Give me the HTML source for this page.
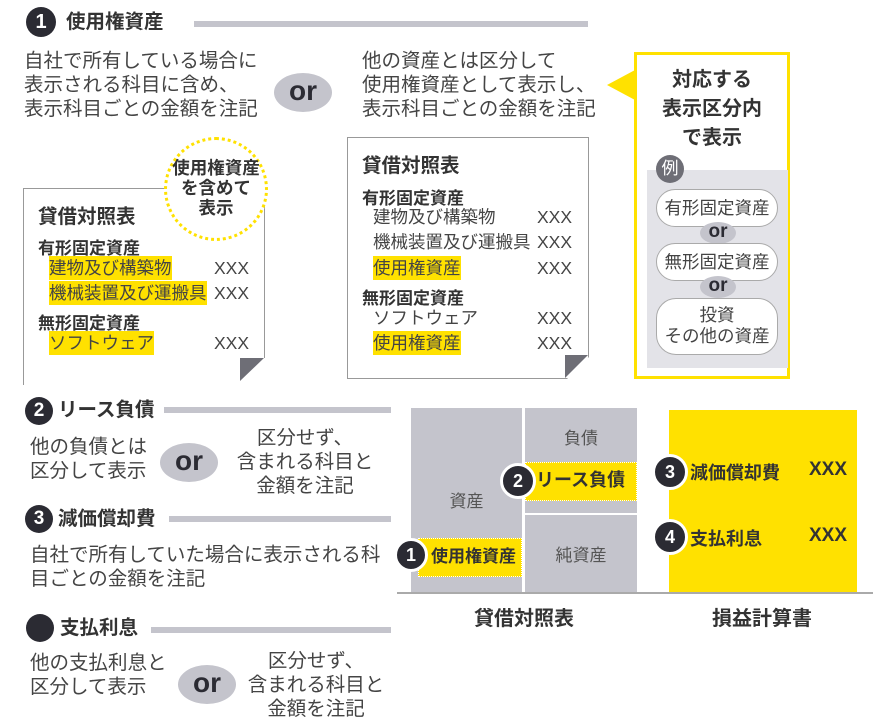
<!DOCTYPE html>
<html><head><meta charset="utf-8"><style>
*{margin:0;padding:0;box-sizing:border-box}
body{width:883px;height:724px;background:#fff;position:relative;overflow:hidden;font-family:"Liberation Sans","Noto Sans CJK JP",sans-serif;color:#333}
.a{position:absolute;white-space:nowrap}
.num{position:absolute;border-radius:50%;background:#2b2b33;color:#fff;font-weight:bold;text-align:center;font-family:"Liberation Sans",sans-serif}
.bar{position:absolute;background:#c4c4cc;height:6px}
.h{font-weight:bold;font-size:19.5px;line-height:24px}
.t{font-size:19.5px;line-height:24px;color:#444}
.or{position:absolute;background:#c4c4cc;border-radius:50%;font-weight:bold;font-size:28px;color:#2b2b33;text-align:center;font-family:"Liberation Sans",sans-serif}
.doc{position:absolute;border:1.5px solid #999;background:#fff}
.hl{background:#ffe100}
.s{font-size:17.5px;color:#444}
.b{font-size:17px;font-weight:bold;color:#333}
.pill{position:absolute;background:#fff;border:1px solid #aaa;border-radius:20px;text-align:center;font-size:17.5px;color:#444}
.orc{position:absolute;background:#c4c4cc;border-radius:50%;width:36px;height:22px;font-weight:bold;font-size:19px;line-height:20px;text-align:center;color:#2b2b33;font-family:"Liberation Sans",sans-serif}
</style></head><body>

<!-- section 1 -->
<div class="num" style="left:26px;top:7px;width:30px;height:30px;font-size:20px;line-height:30px">1</div>
<div class="a h" style="left:66px;top:10px">使用権資産</div>
<div class="bar" style="left:194px;top:21px;width:394px"></div>
<div class="a t" style="left:24px;top:49px">自社で所有している場合に<br>表示される科目に含め、<br>表示科目ごとの金額を注記</div>
<div class="or" style="left:274px;top:73px;width:58px;height:39px;line-height:36px">or</div>
<div class="a t" style="left:362px;top:49px">他の資産とは区分して<br>使用権資産として表示し、<br>表示科目ごとの金額を注記</div>

<!-- callout -->
<div class="a" style="left:607px;top:70px;width:0;height:0;border-top:15px solid transparent;border-bottom:15px solid transparent;border-right:28px solid #ffe100"></div>
<div class="a" style="left:634px;top:52px;width:156px;height:327px;border:3px solid #ffe100;background:#fff"></div>
<div class="a" style="left:634px;top:66px;width:156px;text-align:center;font-weight:bold;font-size:20px;line-height:29px;color:#333">対応する<br>表示区分内<br>で表示</div>
<div class="a" style="left:647px;top:170px;width:141px;height:198px;background:#e3e3e8"></div>
<div class="a" style="left:656px;top:155px;width:28px;height:28px;border-radius:50%;background:#6e6e76;color:#fff;font-size:17px;line-height:27px;text-align:center">例</div>
<div class="pill" style="left:656px;top:189px;width:122px;height:38px;line-height:36px">有形固定資産</div>
<div class="orc" style="left:700px;top:222px">or</div>
<div class="pill" style="left:656px;top:243px;width:122px;height:38px;line-height:36px">無形固定資産</div>
<div class="orc" style="left:700px;top:276px">or</div>
<div class="pill" style="left:656px;top:298px;width:122px;height:57px;line-height:21px;padding-top:6px">投資<br>その他の資産</div>

<!-- left doc -->
<div class="doc" style="left:23px;top:188px;width:242px;height:197px;border-bottom:none"></div>
<div class="a" style="left:240px;top:358px;width:27px;height:27px;background:#fff"></div>
<div class="a" style="left:240px;top:358px;width:0;height:0;border-top:23px solid #6e6e76;border-right:24px solid transparent"></div>
<div class="a" style="left:164px;top:137px;width:104px;height:104px;border-radius:50%;border:3px dotted #ffe100;background:#fff"></div>
<div class="a" style="left:160px;top:158px;width:112px;text-align:center;font-weight:bold;font-size:17.5px;line-height:20px;color:#333">使用権資産<br>を含めて<br>表示</div>
<div class="a" style="left:38px;top:200px;font-weight:bold;font-size:19.5px">貸借対照表</div>
<div class="a b" style="left:38px;top:234px">有形固定資産</div>
<div class="a s hl" style="left:49px;top:256px;height:24px;line-height:24px">建物及び構築物</div>
<div class="a s" style="left:214px;top:256px;line-height:24px">XXX</div>
<div class="a s hl" style="left:49px;top:281px;height:24px;line-height:24px">機械装置及び運搬具</div>
<div class="a s" style="left:214px;top:281px;line-height:24px">XXX</div>
<div class="a b" style="left:38px;top:309px">無形固定資産</div>
<div class="a s hl" style="left:49px;top:331px;height:24px;line-height:24px">ソフトウェア</div>
<div class="a s" style="left:214px;top:331px;line-height:24px">XXX</div>

<!-- right doc -->
<div class="doc" style="left:347px;top:137px;width:242px;height:242px"></div>
<div class="a" style="left:565px;top:355px;width:26px;height:26px;background:#fff;clip-path:polygon(100% 0,100% 100%,0 100%)"></div>
<div class="a" style="left:565px;top:355px;width:0;height:0;border-top:23px solid #6e6e76;border-right:23px solid transparent"></div>
<div class="a" style="left:362px;top:149px;font-weight:bold;font-size:19.5px">貸借対照表</div>
<div class="a b" style="left:362px;top:184px">有形固定資産</div>
<div class="a s" style="left:373px;top:205px;line-height:24px">建物及び構築物</div>
<div class="a s" style="left:537px;top:205px;line-height:24px">XXX</div>
<div class="a s" style="left:373px;top:230px;line-height:24px">機械装置及び運搬具</div>
<div class="a s" style="left:537px;top:230px;line-height:24px">XXX</div>
<div class="a s hl" style="left:373px;top:256px;height:24px;line-height:24px">使用権資産</div>
<div class="a s" style="left:537px;top:256px;line-height:24px">XXX</div>
<div class="a b" style="left:362px;top:284px">無形固定資産</div>
<div class="a s" style="left:373px;top:306px;line-height:24px">ソフトウェア</div>
<div class="a s" style="left:537px;top:306px;line-height:24px">XXX</div>
<div class="a s hl" style="left:373px;top:331px;height:24px;line-height:24px">使用権資産</div>
<div class="a s" style="left:537px;top:331px;line-height:24px">XXX</div>

<!-- section 2 -->
<div class="num" style="left:25px;top:397px;width:28px;height:28px;font-size:19px;line-height:28px">2</div>
<div class="a h" style="left:58px;top:398px">リース負債</div>
<div class="bar" style="left:164px;top:407px;width:227px"></div>
<div class="a t" style="left:30px;top:435px">他の負債とは<br>区分して表示</div>
<div class="or" style="left:160px;top:443px;width:58px;height:39px;line-height:36px">or</div>
<div class="a t" style="left:225px;top:426px;width:160px;text-align:center">区分せず、<br>含まれる科目と<br>金額を注記</div>

<!-- section 3 -->
<div class="num" style="left:25px;top:505px;width:28px;height:28px;font-size:19px;line-height:28px">3</div>
<div class="a h" style="left:58px;top:507px">減価償却費</div>
<div class="bar" style="left:169px;top:516px;width:222px"></div>
<div class="a t" style="left:30px;top:543px">自社で所有していた場合に表示される科<br>目ごとの金額を注記</div>

<!-- section 4 -->
<div class="num" style="left:26px;top:614px;width:28px;height:28px"></div>
<div class="a h" style="left:60px;top:616px">支払利息</div>
<div class="bar" style="left:151px;top:627px;width:240px"></div>
<div class="a t" style="left:30px;top:651px">他の支払利息と<br>区分して表示</div>
<div class="or" style="left:178px;top:665px;width:58px;height:39px;line-height:36px">or</div>
<div class="a t" style="left:236px;top:649px;width:160px;text-align:center">区分せず、<br>含まれる科目と<br>金額を注記</div>

<!-- bottom diagram -->
<div class="a" style="left:411px;top:408px;width:111px;height:184px;background:#c4c4cc"></div>
<div class="a" style="left:411px;top:487px;width:111px;text-align:center;font-size:17px;color:#555">資産</div>
<div class="a" style="left:525px;top:408px;width:112px;height:105px;background:#c4c4cc"></div>
<div class="a" style="left:525px;top:424px;width:112px;text-align:center;font-size:17px;color:#555">負債</div>
<div class="a" style="left:525px;top:515px;width:112px;height:77px;background:#c4c4cc"></div>
<div class="a" style="left:525px;top:541px;width:112px;text-align:center;font-size:17px;color:#555">純資産</div>
<div class="a" style="left:525px;top:462px;width:112px;height:39px;background:#ffe100;border:1.5px dotted #fff;font-weight:bold;font-size:18px;line-height:35px;padding-left:10px;color:#333">リース負債</div>
<div class="a" style="left:418px;top:538px;width:104px;height:39px;background:#ffe100;border:1.5px dotted #fff;font-weight:bold;font-size:17px;line-height:35px;padding-left:12px;color:#333">使用権資産</div>
<div class="num" style="left:500px;top:463px;width:36px;height:36px;border:3px solid #fff;font-size:18px;line-height:30px">2</div>
<div class="num" style="left:394px;top:538px;width:34px;height:34px;border:3px solid #fff;font-size:18px;line-height:28px">1</div>
<div class="a" style="left:669px;top:410px;width:188px;height:182px;background:#ffe100"></div>
<div class="a" style="left:397px;top:592px;width:476px;height:2px;background:#aaa"></div>
<div class="num" style="left:652px;top:454px;width:36px;height:36px;border:3px solid #fff;font-size:18px;line-height:30px">3</div>
<div class="num" style="left:652px;top:519px;width:36px;height:36px;border:3px solid #fff;font-size:18px;line-height:30px">4</div>
<div class="a" style="left:690px;top:459px;font-weight:bold;font-size:18px">減価償却費</div>
<div class="a" style="left:809px;top:459px;font-weight:bold;font-size:19px;font-family:'Liberation Sans',sans-serif">XXX</div>
<div class="a" style="left:690px;top:525px;font-weight:bold;font-size:18px">支払利息</div>
<div class="a" style="left:809px;top:525px;font-weight:bold;font-size:19px;font-family:'Liberation Sans',sans-serif">XXX</div>
<div class="a" style="left:454px;top:602px;width:140px;text-align:center;font-weight:bold;font-size:20px">貸借対照表</div>
<div class="a" style="left:692px;top:602px;width:140px;text-align:center;font-weight:bold;font-size:20px">損益計算書</div>

</body></html>
